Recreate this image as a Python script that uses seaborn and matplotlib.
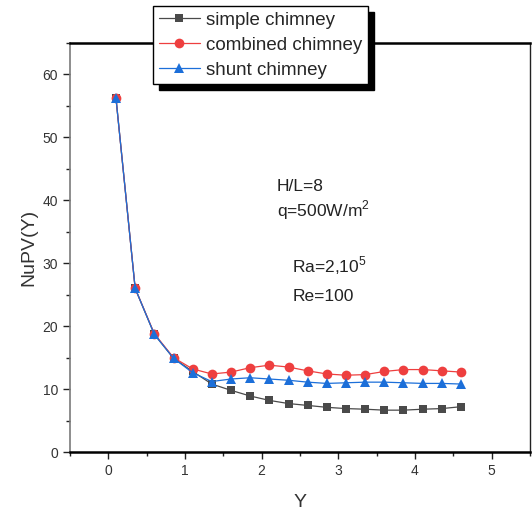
import matplotlib
matplotlib.use("Agg")
import matplotlib.pyplot as plt
import seaborn as sns
import pandas as pd
from matplotlib.ticker import MultipleLocator

y_pos = [0.1, 0.35, 0.6, 0.85, 1.1, 1.35, 1.6, 1.85, 2.1, 2.35, 2.6, 2.85,
         3.1, 3.35, 3.6, 3.85, 4.1, 4.35, 4.6]
simple = [56.2, 26.0, 18.7, 14.9, 12.8, 10.8, 9.8, 8.9, 8.2, 7.7, 7.4, 7.1,
          6.9, 6.8, 6.65, 6.65, 6.8, 6.9, 7.2]
combined = [56.2, 26.0, 18.8, 15.0, 13.2, 12.4, 12.7, 13.4, 13.8, 13.5, 12.9,
            12.4, 12.2, 12.3, 12.8, 13.1, 13.1, 12.9, 12.7]
shunt = [56.2, 26.0, 18.7, 14.9, 12.6, 11.2, 11.6, 11.8, 11.6, 11.4, 11.1,
         10.9, 11.0, 11.1, 11.1, 11.0, 10.9, 10.9, 10.8]
labels = ["simple chimney", "combined chimney", "shunt chimney"]

sns.set_style("white")
plt.rcParams["font.family"] = ["Liberation Sans", "DejaVu Sans"]
plt.rcParams["mathtext.fontset"] = "custom"
plt.rcParams["mathtext.rm"] = "Liberation Sans"

fig = plt.figure(figsize=(5.32, 5.12), dpi=100)
ax = fig.add_axes([70/532, 60/512, 460/532, 409/512])

styles = [
    (simple, "#4a4a4a", "s", 6.0),
    (combined, "#ee3f3f", "o", 7.0),
    (shunt, "#1c6fd9", "^", 7.5),
]
for (vals, col, mk, ms), lab in zip(styles, labels):
    df = pd.DataFrame({"Y": y_pos, "v": vals})
    sns.lineplot(data=df, x="Y", y="v", ax=ax, color=col, marker=mk,
                 markersize=ms, markeredgewidth=0, linewidth=0.9, label=lab)

ax.set_xlim(-0.5, 5.5)
ax.set_ylim(0, 65)
ax.xaxis.set_major_locator(MultipleLocator(1))
ax.xaxis.set_minor_locator(MultipleLocator(0.5))
ax.yaxis.set_major_locator(MultipleLocator(10))
ax.yaxis.set_minor_locator(MultipleLocator(5))
ax.tick_params(axis="both", which="major", direction="out", length=5, width=1,
               color="#222222", labelsize=10, labelcolor="#333333",
               bottom=True, left=True)
ax.tick_params(axis="both", which="minor", direction="out", length=3, width=1,
               color="#222222", bottom=True, left=True)

ax.spines["left"].set_color("#7a7a7a")
ax.spines["left"].set_linewidth(1.2)
ax.spines["bottom"].set_color("black")
ax.spines["bottom"].set_linewidth(1.8)
ax.spines["top"].set_color("black")
ax.spines["top"].set_linewidth(1.8)
ax.spines["right"].set_color("#222222")
ax.spines["right"].set_linewidth(1.0)

ax.set_xlabel("Y", fontsize=14, color="#333333", labelpad=12)
ax.set_ylabel("NuPV(Y)", fontsize=14, color="#333333", labelpad=4)

ax.text(2.2, 41.5, "H/L=8", fontsize=12.5, color="#222222", va="baseline")
ax.text(2.2, 37.4, r"q=500W/m$^2$", fontsize=12.5, color="#222222", va="baseline")
ax.text(2.4, 28.5, r"Ra=2,10$^5$", fontsize=12.5, color="#222222", va="baseline")
ax.text(2.4, 24.0, "Re=100", fontsize=12.5, color="#222222", va="baseline")

leg = ax.legend(loc="upper left", bbox_to_anchor=(153/532, 506/512),
                bbox_transform=fig.transFigure, borderaxespad=0,
                fontsize=13.5, frameon=True, fancybox=False,
                shadow={"color": "black", "alpha": 1.0, "ox": 4, "oy": -4},
                handlelength=2.2, handletextpad=0.35, labelspacing=0.42,
                borderpad=0.3)
leg.get_frame().set_edgecolor("black")
leg.get_frame().set_linewidth(1.0)
leg.set_zorder(10)

fig.savefig("out.png", dpi=100)
